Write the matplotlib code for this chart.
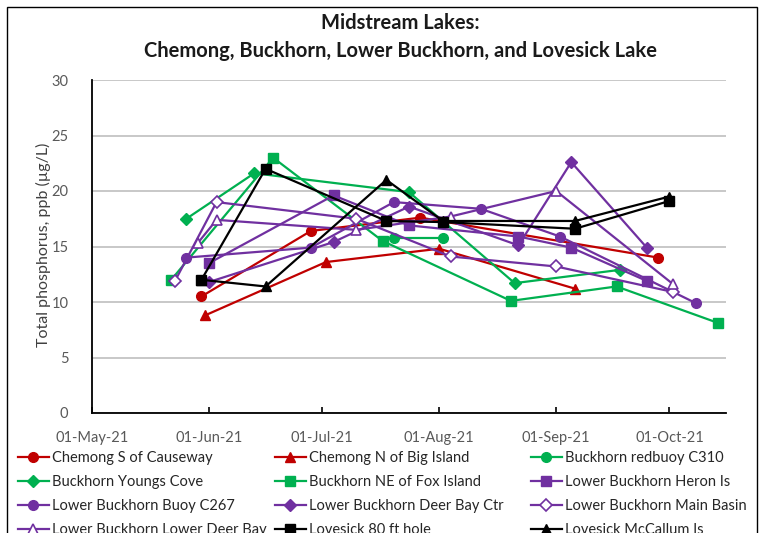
import numpy as np
import matplotlib
matplotlib.use('Agg')
import matplotlib.pyplot as plt
import matplotlib.dates as mdates
from matplotlib.patches import Rectangle
import pandas as pd

plt.rcParams['font.family'] = ['Lato', 'DejaVu Sans']

# --- data (total phosphorus, ppb) ---
chemong_s_dates = ['2021-05-30', '2021-06-28', '2021-07-27', '2021-09-28']
chemong_s_tp = [10.5, 16.4, 17.6, 14.0]

chemong_n_dates = ['2021-05-31', '2021-07-02', '2021-08-01', '2021-09-06']
chemong_n_tp = [8.8, 13.6, 14.8, 11.2]

redbuoy_dates = ['2021-07-20', '2021-08-02']
redbuoy_tp = [15.8, 15.8]

youngs_dates = ['2021-05-26', '2021-06-13', '2021-07-24', '2021-08-21', '2021-09-18']
youngs_tp = [17.5, 21.6, 19.9, 11.7, 12.9]

fox_dates = ['2021-05-22', '2021-06-18', '2021-07-17', '2021-08-20', '2021-09-17', '2021-10-14']
fox_tp = [12.0, 23.0, 15.5, 10.1, 11.4, 8.1]

heron_dates = ['2021-06-01', '2021-07-04', '2021-07-24', '2021-08-22', '2021-09-05', '2021-09-25']
heron_tp = [13.5, 19.6, 16.9, 15.9, 14.9, 11.9]

buoy_dates = ['2021-05-26', '2021-06-28', '2021-07-20', '2021-08-12', '2021-09-02', '2021-10-08']
buoy_tp = [14.0, 14.9, 19.0, 18.4, 15.9, 9.9]

deerctr_dates = ['2021-06-01', '2021-07-04', '2021-07-24', '2021-08-22', '2021-09-05', '2021-09-25']
deerctr_tp = [11.8, 15.4, 18.6, 15.1, 22.6, 14.9]

mainbasin_dates = ['2021-05-23', '2021-06-03', '2021-07-10', '2021-08-04', '2021-09-01', '2021-10-02']
mainbasin_tp = [11.9, 19.0, 17.5, 14.1, 13.2, 10.9]

lowerdeer_dates = ['2021-05-29', '2021-06-03', '2021-07-10', '2021-08-04', '2021-09-01', '2021-10-02']
lowerdeer_tp = [15.3, 17.4, 16.5, 17.7, 20.0, 11.6]

hole80_dates = ['2021-05-30', '2021-06-16', '2021-07-18', '2021-08-02', '2021-09-06', '2021-10-01']
hole80_tp = [12.0, 22.0, 17.3, 17.2, 16.6, 19.1]

mccallum_dates = ['2021-05-30', '2021-06-16', '2021-07-18', '2021-08-02', '2021-09-06', '2021-10-01']
mccallum_tp = [12.0, 11.4, 21.0, 17.3, 17.3, 19.5]

RED = '#C00000'
GREEN = '#00B050'
PURPLE = '#7030A0'
BLACK = '#000000'

# label, dates, values, colour, marker, filled
series = [
    ('Chemong S of Causeway', chemong_s_dates, chemong_s_tp, RED, 'o', True),
    ('Chemong N of Big Island', chemong_n_dates, chemong_n_tp, RED, '^', True),
    ('Buckhorn redbuoy C310', redbuoy_dates, redbuoy_tp, GREEN, 'o', True),
    ('Buckhorn Youngs Cove', youngs_dates, youngs_tp, GREEN, 'D', True),
    ('Buckhorn NE of Fox Island', fox_dates, fox_tp, GREEN, 's', True),
    ('Lower Buckhorn Heron Is', heron_dates, heron_tp, PURPLE, 's', True),
    ('Lower Buckhorn Buoy C267', buoy_dates, buoy_tp, PURPLE, 'o', True),
    ('Lower Buckhorn Deer Bay Ctr', deerctr_dates, deerctr_tp, PURPLE, 'D', True),
    ('Lower Buckhorn Main Basin', mainbasin_dates, mainbasin_tp, PURPLE, 'D', False),
    ('Lower Buckhorn Lower Deer Bay', lowerdeer_dates, lowerdeer_tp, PURPLE, '^', False),
    ('Lovesick 80 ft hole', hole80_dates, hole80_tp, BLACK, 's', True),
    ('Lovesick McCallum Is', mccallum_dates, mccallum_tp, BLACK, '^', True),
]

fig = plt.figure(figsize=(7.65, 5.33), dpi=100)
ax = fig.add_axes([92/765, 1 - 413/533, (726 - 92)/765, (413 - 80)/533])

handles = []
for label, d, v, col, mk, filled in series:
    ms = 6.5 if mk == 'D' else 7
    h, = ax.plot(pd.to_datetime(d), v, color=col, lw=1.6, marker=mk, ms=ms,
                 mfc=col if filled else 'white', mec=col, mew=1.0 if filled else 1.2,
                 label=label)
    handles.append(h)

ax.set_ylim(0, 30)
ax.set_yticks(np.arange(0, 31, 5))
ax.set_xlim(pd.Timestamp('2021-05-01'), pd.Timestamp('2021-10-16'))
ax.xaxis.set_major_locator(mdates.MonthLocator())
ax.xaxis.set_major_formatter(mdates.DateFormatter('%d-%b-%y'))

ax.grid(axis='y', color='#BFBFBF', lw=1.2)
ax.set_axisbelow(True)
for s in ['top', 'right']:
    ax.spines[s].set_visible(False)
for s in ['left', 'bottom']:
    ax.spines[s].set_color('#000000')
    ax.spines[s].set_linewidth(1.3)

ax.tick_params(axis='y', length=0, pad=17, labelsize=10.5, labelcolor='#595959')
ax.tick_params(axis='x', direction='in', length=4, width=1.2, pad=13,
               labelsize=10.5, labelcolor='#595959')

ax.set_ylabel('Total phosphorus, ppb (µg/L)', fontsize=11.5, color='#404040')
ax.yaxis.set_label_coords((51 - 92)/634, 0.505)

fig.text(400/765, 1 - 23/533, 'Midstream Lakes:', ha='center', va='center',
         fontsize=14.5, fontweight='bold', color='#1a1a1a')
fig.text(400/765, 1 - 51/533, 'Chemong, Buckhorn, Lower Buckhorn, and Lovesick Lake',
         ha='center', va='center', fontsize=14.5, fontweight='bold', color='#1a1a1a')

# legend: three columns, filled row by row
col_x = [18, 275, 531]
for c in range(3):
    hs = [handles[r*3 + c] for r in range(4)]
    fig.legend(handles=hs, labels=[h.get_label() for h in hs], loc='upper left',
               bbox_to_anchor=(col_x[c]/765, 1 - 451/533), frameon=False,
               fontsize=10.5, handlelength=2.1, handletextpad=0.2, labelspacing=0.68,
               borderpad=0, borderaxespad=0, labelcolor='#262626')

fig.add_artist(Rectangle((7/765, -0.1), (757 - 7)/765, (533 - 7)/533 + 0.1,
                         transform=fig.transFigure, fill=False, ec='black', lw=1.0))

fig.savefig('out.png', dpi=100)
